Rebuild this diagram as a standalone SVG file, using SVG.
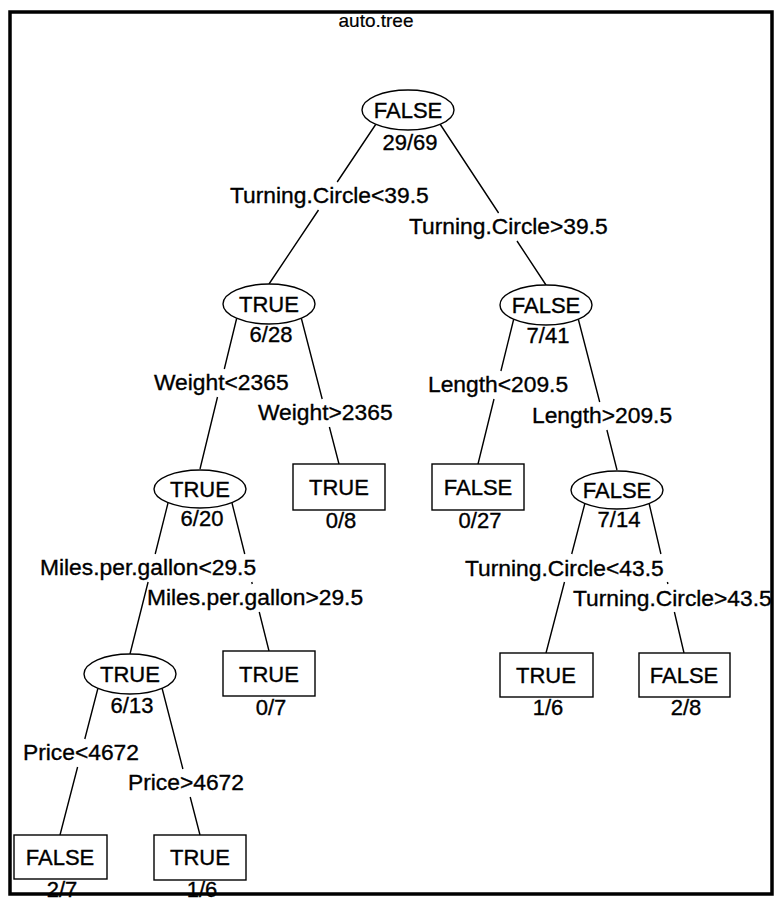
<svg xmlns="http://www.w3.org/2000/svg" width="776" height="901" viewBox="0 0 776 901">
<style>
text { font-family: "Liberation Sans", Arial, Helvetica, sans-serif; fill: #000; stroke: #000; stroke-width: 0.35px; }
.n { font-size: 22px; text-anchor: middle; }
.c { font-size: 22px; text-anchor: middle; }
.l { font-size: 22.8px; }
.t { font-size: 19px; text-anchor: middle; stroke-width: 0.2px; }
.node ellipse, .node rect { fill: #fff; stroke: #000; stroke-width: 1.4; }
#edges path { fill: none; stroke: #000; stroke-width: 1.4; }
.frame { fill: none; stroke: #000; stroke-width: 3.5; }
</style>
<rect x="0" y="0" width="776" height="901" fill="#fff"/>
<text class="t" x="376" y="27">auto.tree</text>

<g id="edges">
  <path d="M376,124 L337.2,182 M318.5,210 L269,284"/>
  <path d="M440,124 L498.6,213 M517,241 L546,285"/>
  <path d="M237,317 L224.3,369 M217.5,397 L200,469"/>
  <path d="M301,317 L322.2,399 M329.4,427 L339,464"/>
  <path d="M514,318 L500.9,371 M494,399 L478,464"/>
  <path d="M578,318 L599.7,402 M606.9,430 L617,470"/>
  <path d="M168,503 L155.2,554 M148.1,582 L130,654"/>
  <path d="M232,503 L244.75,554 M251.75,582 L252.25,584 M259.25,612 L269,651"/>
  <path d="M585,503 L571.7,554 M564.5,582 L546,653"/>
  <path d="M649,503 L660.9,554 M667.4,582 L667.9,584 M674.4,612 L684,653"/>
  <path d="M98,688 L84.8,739 M77.6,767 L60,835"/>
  <path d="M162,688 L182.9,769 M190.2,797 L200,835"/>
</g>

<g id="edge-labels">
  <text class="l" x="230" y="203">Turning.Circle&lt;39.5</text>
  <text class="l" x="409" y="234">Turning.Circle&gt;39.5</text>
  <text class="l" x="154" y="390">Weight&lt;2365</text>
  <text class="l" x="258" y="420">Weight&gt;2365</text>
  <text class="l" x="428" y="392">Length&lt;209.5</text>
  <text class="l" x="532" y="423">Length&gt;209.5</text>
  <text class="l" x="40" y="575">Miles.per.gallon&lt;29.5</text>
  <text class="l" x="147" y="605">Miles.per.gallon&gt;29.5</text>
  <text class="l" x="465" y="576">Turning.Circle&lt;43.5</text>
  <text class="l" x="573" y="606">Turning.Circle&gt;43.5</text>
  <text class="l" x="23" y="760">Price&lt;4672</text>
  <text class="l" x="128" y="790">Price&gt;4672</text>
</g>

<g id="n1" class="node">
  <ellipse cx="408" cy="110" rx="46" ry="20"/>
  <text class="n" x="408" y="118">FALSE</text>
  <text class="c" x="410" y="150">29/69</text>
</g>
<g id="n2" class="node">
  <ellipse cx="269" cy="304" rx="46" ry="20"/>
  <text class="n" x="269" y="312">TRUE</text>
  <text class="c" x="271" y="342">6/28</text>
</g>
<g id="n3" class="node">
  <ellipse cx="546" cy="305" rx="46" ry="20"/>
  <text class="n" x="546" y="313">FALSE</text>
  <text class="c" x="548" y="343">7/41</text>
</g>
<g id="n4" class="node">
  <ellipse cx="200" cy="489" rx="46" ry="19"/>
  <text class="n" x="200" y="497">TRUE</text>
  <text class="c" x="202" y="526">6/20</text>
</g>
<g id="n5" class="node">
  <rect x="293" y="464" width="92" height="46"/>
  <text class="n" x="339" y="495">TRUE</text>
  <text class="c" x="341" y="528">0/8</text>
</g>
<g id="n6" class="node">
  <rect x="432" y="464" width="92" height="46"/>
  <text class="n" x="478" y="495">FALSE</text>
  <text class="c" x="480" y="528">0/27</text>
</g>
<g id="n7" class="node">
  <ellipse cx="617" cy="490" rx="46" ry="19"/>
  <text class="n" x="617" y="498">FALSE</text>
  <text class="c" x="619" y="527">7/14</text>
</g>
<g id="n8" class="node">
  <ellipse cx="130" cy="674" rx="46" ry="20"/>
  <text class="n" x="130" y="682">TRUE</text>
  <text class="c" x="132" y="713">6/13</text>
</g>
<g id="n9" class="node">
  <rect x="223" y="651" width="92" height="45"/>
  <text class="n" x="269" y="682">TRUE</text>
  <text class="c" x="271" y="715">0/7</text>
</g>
<g id="n10" class="node">
  <rect x="500" y="653" width="93" height="44"/>
  <text class="n" x="546" y="683">TRUE</text>
  <text class="c" x="548" y="715">1/6</text>
</g>
<g id="n11" class="node">
  <rect x="639" y="653" width="91" height="44"/>
  <text class="n" x="684" y="683">FALSE</text>
  <text class="c" x="686" y="715">2/8</text>
</g>
<g id="n12" class="node">
  <rect x="14" y="835" width="93" height="44"/>
  <text class="n" x="60" y="865">FALSE</text>
  <text class="c" x="62" y="897">2/7</text>
</g>
<g id="n13" class="node">
  <rect x="154" y="835" width="92" height="45"/>
  <text class="n" x="200" y="865">TRUE</text>
  <text class="c" x="202" y="897">1/6</text>
</g>

<rect class="frame" x="10" y="12" width="762" height="882"/>
</svg>
